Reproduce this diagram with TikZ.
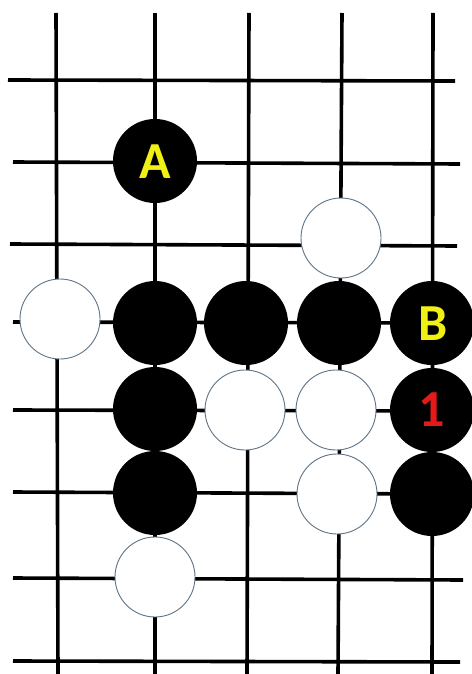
\documentclass[tikz,border=0pt]{standalone}
\usepackage{fontspec}
\newfontfamily\stonefont{Carlito}
\definecolor{stoneedge}{RGB}{95,115,135}
\definecolor{lblyellow}{RGB}{240,240,20}
\definecolor{lblred}{RGB}{230,25,25}
\begin{document}
\begin{tikzpicture}[x=1pt,y=-1pt,
  gridline/.style={line width=3.6pt, black},
  blackstone/.style={circle, fill=black, minimum size=84pt, inner sep=0pt},
  whitestone/.style={circle, fill=white, draw=stoneedge, line width=0.9pt, minimum size=80pt, inner sep=0pt},
  lbl/.style={font=\stonefont\bfseries\fontsize{52}{52}\selectfont}]
\useasboundingbox (0,0) rectangle (471,674);
\fill[white] (0,0) rectangle (471,674);
% vertical lines
\draw[gridline] (56,13) -- (58,674);
\draw[gridline] (155,13) -- (155,674);
\draw[gridline] (249,13) -- (247,674);
\draw[gridline] (342,13) -- (338,674);
\draw[gridline] (433,13) -- (432,674);
% horizontal lines
\draw[gridline] (8,80) -- (455,81);
\draw[gridline] (13,162) -- (460,164);
\draw[gridline] (10,244) -- (457,246);
\draw[gridline] (13,322) -- (432,323);
\draw[gridline] (13,410) -- (432,411);
\draw[gridline] (13,492) -- (432,494);
\draw[gridline] (13,578) -- (463,580);
\draw[gridline] (13,661) -- (460,662);
% stones
\node[blackstone] (sA) at (155,161) {};
\node[lbl, text=lblyellow] (tA) at (155,162) {A};
\node[whitestone] (w1) at (341,238) {};
\node[whitestone] (w2) at (60,319) {};
\node[blackstone] (b1) at (155,323) {};
\node[blackstone] (b2) at (246,323) {};
\node[blackstone] (b3) at (339,323) {};
\node[blackstone] (sB) at (432,323) {};
\node[lbl, text=lblyellow] (tB) at (433,324) {B};
\node[blackstone] (b4) at (155,409) {};
\node[whitestone] (w3) at (245,410) {};
\node[whitestone] (w4) at (336,410) {};
\node[blackstone] (s1) at (432,410) {};
\node[lbl, text=lblred] (t1) at (432,410) {1};
\node[blackstone] (b5) at (155,493) {};
\node[whitestone] (w5) at (337,494) {};
\node[blackstone] (b6) at (432,494) {};
\node[whitestone] (w6) at (155,577) {};
\end{tikzpicture}
\end{document}
